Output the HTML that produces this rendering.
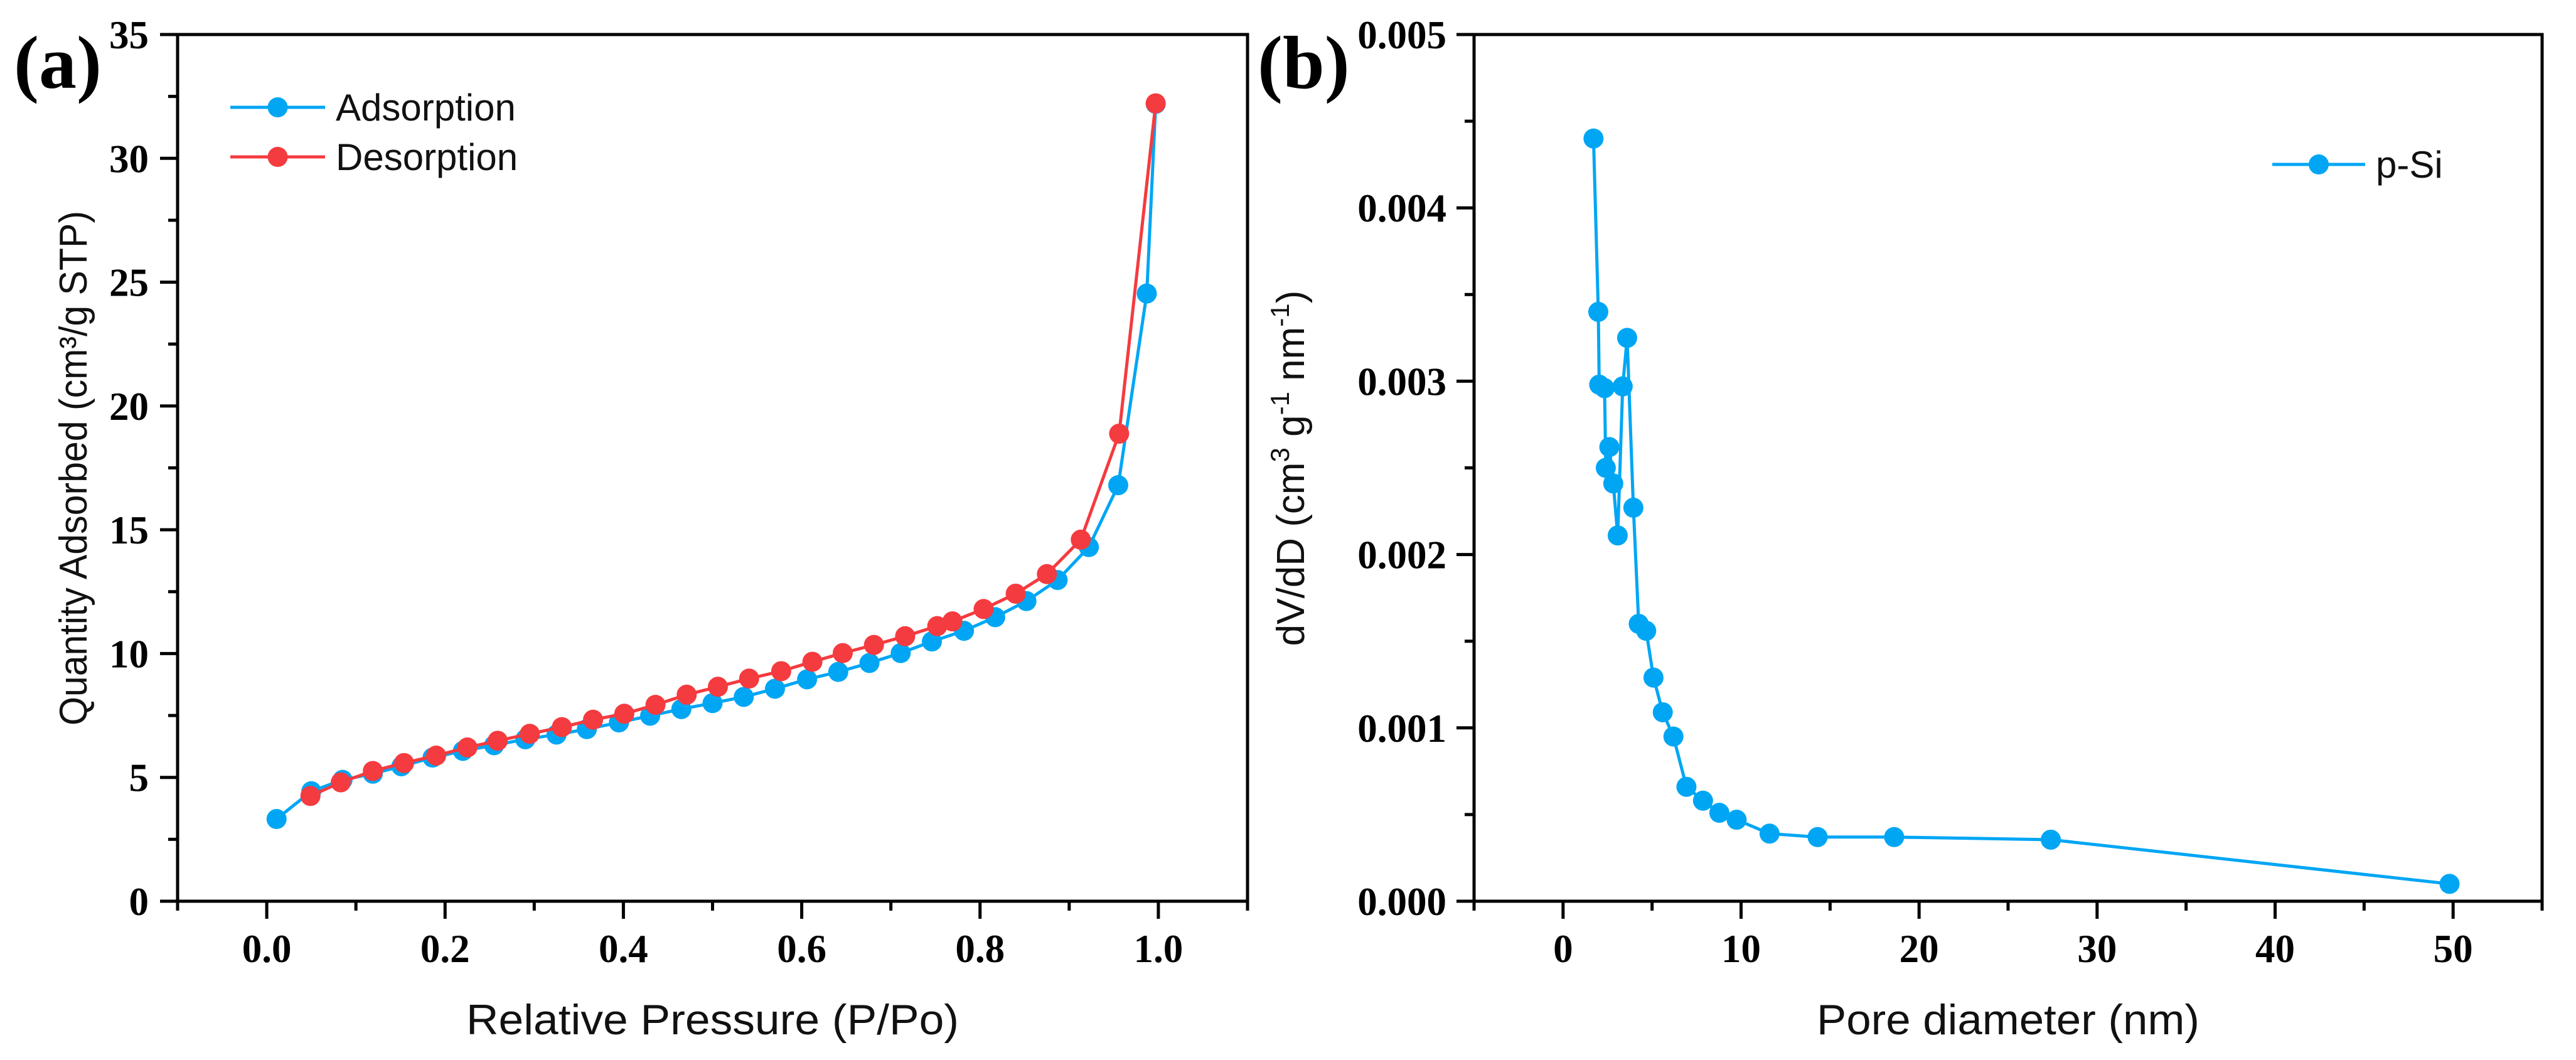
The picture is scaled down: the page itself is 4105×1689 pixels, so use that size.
<!DOCTYPE html>
<html><head><meta charset="utf-8"><style>
html,body{margin:0;padding:0;background:#fff;}
svg{display:block;}
.tk{font-family:"Liberation Serif",serif;font-weight:bold;font-size:63px;fill:#000;}
.ti{font-family:"Liberation Sans",sans-serif;fill:#111;}
</style></head><body>
<svg id="fig" width="4105" height="1689" viewBox="0 0 4105 1689" xmlns="http://www.w3.org/2000/svg">
<rect width="4105" height="1689" fill="#fff"/>
<g id="pa"></g>
<g id="pb"></g>
</svg>
<script>
// Panel (a) data
const adsX = [0.011,0.050,0.085,0.119,0.151,0.186,0.220,0.255,0.290,0.325,0.359,0.395,0.430,0.465,0.500,0.535,0.570,0.606,0.641,0.676,0.711,0.746,0.782,0.817,0.852,0.887,0.922,0.955,0.987,0.997];
const adsY = [3.32,4.44,4.9,5.15,5.45,5.8,6.07,6.3,6.54,6.73,6.95,7.22,7.49,7.76,8.0,8.25,8.58,8.96,9.26,9.62,10.02,10.49,10.92,11.47,12.12,12.97,14.3,16.8,24.54,32.2];
const desX = [0.997,0.956,0.913,0.875,0.840,0.804,0.769,0.752,0.716,0.681,0.646,0.612,0.577,0.541,0.506,0.471,0.436,0.401,0.366,0.331,0.295,0.259,0.225,0.190,0.154,0.119,0.083,0.049];
const desY = [32.22,18.88,14.6,13.21,12.42,11.8,11.3,11.11,10.7,10.35,10.02,9.67,9.29,8.99,8.66,8.34,7.93,7.57,7.33,7.03,6.76,6.48,6.21,5.88,5.58,5.26,4.8,4.25];
const aXTicks = [0.0,0.2,0.4,0.6,0.8,1.0];
const aXLabels = ["0.0","0.2","0.4","0.6","0.8","1.0"];
const aYTicks = [0,5,10,15,20,25,30,35];
const aYLabels = ["0","5","10","15","20","25","30","35"];
// Panel (b) data
const poreX = [1.71,1.98,2.03,2.33,2.4,2.6,2.82,3.07,3.35,3.6,3.95,4.25,4.67,5.08,5.6,6.2,6.93,7.86,8.78,9.75,11.6,14.3,18.6,27.4,49.8];
const poreY = [0.00440,0.00340,0.00298,0.00296,0.00250,0.00262,0.00241,0.00211,0.00297,0.00325,0.00227,0.00160,0.00156,0.00129,0.00109,0.00095,0.00066,0.00058,0.00051,0.00047,0.00039,0.00037,0.00037,0.000355,0.00010];
const bXTicks = [0,10,20,30,40,50];
const bXLabels = ["0","10","20","30","40","50"];
const bYTicks = [0,0.001,0.002,0.003,0.004,0.005];
const bYLabels = ["0.000","0.001","0.002","0.003","0.004","0.005"];

const NS = "http://www.w3.org/2000/svg";
function mk(parent, tag, attrs, text){
  const e = document.createElementNS(NS, tag);
  for (const k in attrs) e.setAttribute(k, attrs[k]);
  if (text !== undefined) e.textContent = text;
  parent.appendChild(e);
  return e;
}
const TOP = 55, BOT = 1436;
const BLUE = "#00A6F4", RED = "#F43B3F";

// ---------- Panel A ----------
const pa = document.getElementById("pa");
const aL = 283, aR = 1988;
const ax = v => aL + (v + 0.1) / 1.2 * (aR - aL);
const ay = v => BOT - v / 35 * (BOT - TOP);

let frameA = mk(pa, "rect", {x:aL, y:TOP, width:aR-aL, height:BOT-TOP, fill:"none", stroke:"#000", "stroke-width":5});



for (let v = -0.1; v <= 1.101; v += 0.1) {
  const major = Math.abs(Math.round(v*10) % 2) === 0;
  const t = mk(pa, "line", {x1:ax(v), x2:ax(v), y1:BOT, y2:BOT + (major?28:15), stroke:"#000", "stroke-width":5});
  
  
}
for (let v = 0; v <= 35.01; v += 2.5) {
  const major = Math.abs(v % 5) < 0.01;
  const t = mk(pa, "line", {x1:aL, x2:aL - (major?28:15), y1:ay(v), y2:ay(v), stroke:"#000", "stroke-width":5});
  
  
}
aXTicks.forEach((v,i) => {
  const t = mk(pa, "text", {x:ax(v), y:1533, "text-anchor":"middle", class:"tk"}, aXLabels[i]);
  
  
});
aYTicks.forEach((v,i) => {
  const t = mk(pa, "text", {x:237, y:ay(v)+22, "text-anchor":"end", class:"tk"}, aYLabels[i]);
  
  
});
let xtA = mk(pa, "text", {x:(aL+aR)/2, y:1648, "text-anchor":"middle", class:"ti", "font-size":68, textLength:785, lengthAdjust:"spacingAndGlyphs"}, "Relative Pressure (P/Po)");


let ytA = mk(pa, "text", {x:0, y:0, "text-anchor":"middle", class:"ti", "font-size":62, textLength:820, lengthAdjust:"spacingAndGlyphs", transform:"translate(138,746) rotate(-90)"}, "Quantity Adsorbed (cm³/g STP)");


let labA = mk(pa, "text", {x:22, y:140, style:"font-family:'Liberation Serif',serif;font-weight:bold;font-size:120px"}, "(a)");



function series(parent, xs, ys, fx, fy, color, name){
  const g = mk(parent, "g", {});
  
  
  const pts = xs.map((x,i) => fx(x) + "," + fy(ys[i])).join(" ");
  const pl = mk(g, "polyline", {points:pts, fill:"none", stroke:color, "stroke-width":5, "stroke-linejoin":"round"});
  
  
  xs.forEach((x,i) => {
    const c = mk(g, "circle", {cx:fx(x), cy:fy(ys[i]), r:16, fill:color});
    
    
  });
}
series(pa, adsX, adsY, ax, ay, BLUE, "adsorption-series");
series(pa, desX, desY, ax, ay, RED, "desorption-series");

function legend(parent, x1, x2, y, color, label, name){
  const g = mk(parent, "g", {});
  
  
  mk(g, "line", {x1:x1, x2:x2, y1:y, y2:y, stroke:color, "stroke-width":5});
  mk(g, "circle", {cx:(x1+x2)/2, cy:y, r:16, fill:color});
  mk(g, "text", {x:x2+17, y:y+21, class:"ti", "font-size":60}, label);
}
legend(pa, 367, 518, 171, BLUE, "Adsorption", "legend-entry-adsorption");
legend(pa, 367, 518, 250, RED, "Desorption", "legend-entry-desorption");

// ---------- Panel B ----------
const pb = document.getElementById("pb");
const bL = 2349, bR = 4051;
const bx = v => bL + (v + 5) / 60 * (bR - bL);
const by = v => BOT - v / 0.005 * (BOT - TOP);

let frameB = mk(pb, "rect", {x:bL, y:TOP, width:bR-bL, height:BOT-TOP, fill:"none", stroke:"#000", "stroke-width":5});


for (let v = -5; v <= 55; v += 5) {
  const major = v % 10 === 0;
  const t = mk(pb, "line", {x1:bx(v), x2:bx(v), y1:BOT, y2:BOT + (major?28:15), stroke:"#000", "stroke-width":5});
  
  
}
for (let k = 0; k <= 10; k++) {
  const v = k * 0.0005;
  const major = k % 2 === 0;
  const t = mk(pb, "line", {x1:bL, x2:bL - (major?28:15), y1:by(v), y2:by(v), stroke:"#000", "stroke-width":5});
  
  
}
bXTicks.forEach((v,i) => {
  const t = mk(pb, "text", {x:bx(v), y:1533, "text-anchor":"middle", class:"tk"}, bXLabels[i]);
  
  
});
bYTicks.forEach((v,i) => {
  const t = mk(pb, "text", {x:2305, y:by(v)+22, "text-anchor":"end", class:"tk"}, bYLabels[i]);
  
  
});
let xtB = mk(pb, "text", {x:(bL+bR)/2, y:1648, "text-anchor":"middle", class:"ti", "font-size":68, textLength:610, lengthAdjust:"spacingAndGlyphs"}, "Pore diameter (nm)");


let ytB = mk(pb, "text", {x:0, y:0, "text-anchor":"middle", class:"ti", "font-size":62, transform:"translate(2078,746) rotate(-90)"});


ytB.innerHTML = 'dV/dD (cm<tspan dy="-24" font-size="42">3</tspan><tspan dy="24"> g</tspan><tspan dy="-24" font-size="42">-1</tspan><tspan dy="24"> nm</tspan><tspan dy="-24" font-size="42">-1</tspan><tspan dy="24">)</tspan>';
let labB = mk(pb, "text", {x:2004, y:140, style:"font-family:'Liberation Serif',serif;font-weight:bold;font-size:120px"}, "(b)");



series(pb, poreX, poreY, bx, by, BLUE, "p-si-series");
legend(pb, 3621, 3769, 262, BLUE, "p-Si", "legend-entry-p-si");
</script>
</body></html>
